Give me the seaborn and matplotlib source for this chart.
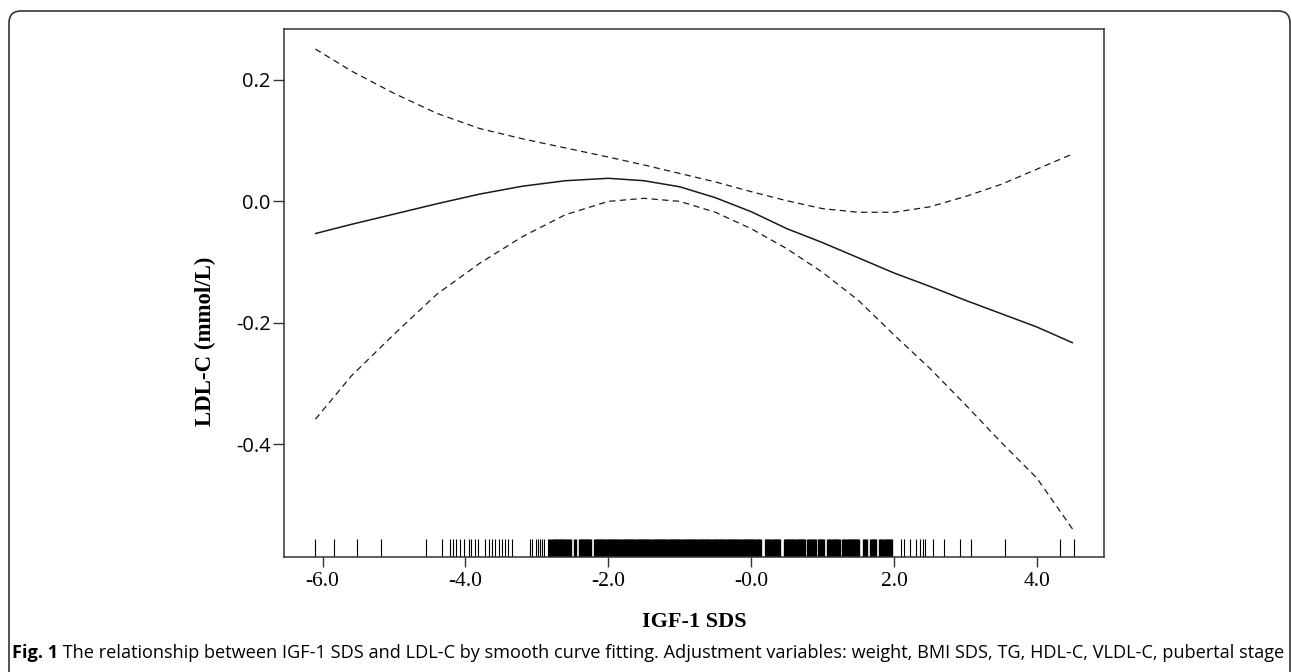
import numpy as np
import pandas as pd
import matplotlib
matplotlib.use("Agg")
import matplotlib.pyplot as plt
import seaborn as sns
from matplotlib.patches import FancyBboxPatch

# smooth curve fit
igf_sds = [-6.1, -5.6, -5.0, -4.4, -3.8, -3.2, -2.6, -2.0, -1.5, -1.0, -0.5,
           0.0, 0.5, 1.0, 1.5, 2.0, 2.5, 3.0, 3.5, 4.0, 4.5]
ldl_fit = [-0.053, -0.038, -0.021, -0.004, 0.012, 0.025, 0.034, 0.038, 0.034, 0.024, 0.006,
           -0.017, -0.045, -0.068, -0.093, -0.118, -0.140, -0.163, -0.185, -0.207, -0.233]
ldl_upper = [0.251, 0.215, 0.178, 0.145, 0.120, 0.103, 0.088, 0.073, 0.060, 0.046, 0.032,
             0.016, 0.001, -0.012, -0.018, -0.018, -0.009, 0.008, 0.028, 0.053, 0.078]
ldl_lower = [-0.359, -0.288, -0.219, -0.153, -0.102, -0.058, -0.022, 0.000, 0.005, 0.000, -0.018,
             -0.045, -0.078, -0.117, -0.163, -0.220, -0.275, -0.335, -0.397, -0.456, -0.540]

# observed IGF-1 SDS values (rug)
rug_sparse = [-6.11, -5.84, -5.52, -5.18, -4.55, -4.33, -4.22, -4.18, -4.13, -4.08, -4.02,
              -3.95, -3.92, -3.87, -3.83, -3.73, -3.67, -3.63, -3.58, -3.53, -3.49, -3.45,
              -3.40, -3.35, -3.10, -3.07, -3.01, -2.98, -2.95, -2.93, -2.90, -2.85,
              2.10, 2.14, 2.23, 2.31, 2.37, 2.40, 2.44, 2.54, 2.70, 2.93, 3.08, 3.55, 4.32, 4.52]
rug_dense = [-2.81, -2.78, -2.75, -2.72, -2.69, -2.66, -2.63, -2.60, -2.57, -2.54, -2.47,
             -2.40, -2.37, -2.34, -2.31, -2.28, -2.25,
             -2.19, -2.16, -2.13, -2.10, -2.07, -2.04, -2.01, -1.98, -1.95, -1.92, -1.89,
             -1.86, -1.83, -1.80, -1.77, -1.74, -1.71, -1.68, -1.65, -1.62, -1.59, -1.56,
             -1.53, -1.50, -1.47, -1.44, -1.41, -1.38, -1.35, -1.32, -1.29, -1.26, -1.23,
             -1.20, -1.17, -1.14, -1.11, -1.08, -1.05, -1.02, -0.99, -0.96, -0.93, -0.90,
             -0.87, -0.84, -0.81, -0.78, -0.75, -0.72, -0.69, -0.66, -0.63, -0.60, -0.57,
             -0.54, -0.51, -0.48, -0.45, -0.42, -0.39, -0.36, -0.33, -0.30, -0.27, -0.24,
             -0.21, -0.18, -0.15, -0.12, -0.09, -0.06, -0.03, 0.00, 0.03, 0.06, 0.09, 0.12,
             0.21, 0.24, 0.27, 0.30, 0.33, 0.36, 0.39,
             0.47, 0.50, 0.53, 0.56, 0.59, 0.62, 0.65, 0.68, 0.71, 0.74,
             0.80, 0.83, 0.86, 0.89, 0.95, 0.98, 1.01,
             1.08, 1.11, 1.14, 1.17, 1.20, 1.23,
             1.29, 1.32, 1.35, 1.38, 1.41, 1.44, 1.47, 1.50,
             1.58, 1.61, 1.68, 1.71, 1.74, 1.80, 1.83, 1.87, 1.90, 1.93, 1.96]

x_ticks = [-6.0, -4.0, -2.0, 0.0, 2.0, 4.0]
x_ticklabels = ["-6.0", "-4.0", "-2.0", "-0.0", "2.0", "4.0"]
y_ticks = [0.2, 0.0, -0.2, -0.4]
y_ticklabels = ["0.2", "0.0", "-0.2", "-0.4"]

caption_bold = "Fig. 1"
caption_rest = (" The relationship between IGF-1 SDS and LDL-C by smooth curve fitting. "
                "Adjustment variables: weight, BMI SDS, TG, HDL-C, VLDL-C, pubertal stage")

sns.set_style("white")
plt.rcParams.update({"text.color": "black", "axes.labelcolor": "black",
                     "xtick.color": "#333333", "ytick.color": "#333333",
                     "xtick.labelcolor": "black", "ytick.labelcolor": "black"})
W, H = 1292, 672
fig = plt.figure(figsize=(W / 100, H / 100), dpi=100)
ax = fig.add_axes([284 / W, 1 - 557 / H, 820 / W, 528 / H])

line_col = "#1a1a1a"
sns.lineplot(x=igf_sds, y=ldl_fit, color=line_col, lw=1.1, ax=ax)
sns.lineplot(x=igf_sds, y=ldl_upper, color=line_col, lw=0.9, ax=ax,
             linestyle=(0, (5, 3.5)))
sns.lineplot(x=igf_sds, y=ldl_lower, color=line_col, lw=0.9, ax=ax,
             linestyle=(0, (5, 3.5)))

sns.rugplot(x=rug_sparse, height=0.034, color="black", linewidth=0.8, ax=ax)
sns.rugplot(x=rug_dense, height=0.034, color="black", linewidth=2.4, ax=ax)

ax.set_xlim(-6.54, 4.94)
ax.set_ylim(-0.586, 0.284)

ax.set_xticks(x_ticks)
ax.set_xticklabels(x_ticklabels, family="Liberation Serif", fontsize=15.5)
ax.set_yticks(y_ticks)
ax.set_yticklabels(y_ticklabels, family="Open Sans", fontsize=14.5)
ax.tick_params(axis="x", bottom=True, direction="out", length=7, width=1, pad=4)
ax.tick_params(axis="y", left=True, direction="out", length=8, width=1, pad=1.5)
for s in ax.spines.values():
    s.set_visible(True)
    s.set_color("#333333")
    s.set_linewidth(1.1)

fig.text(205 / W, 1 - 426 / H, "LDL-C (mmol/L)", rotation=90, ha="center", va="bottom",
         family="Liberation Serif", weight="bold", fontsize=16.5)
fig.text(694 / W, 1 - 612 / H, "IGF-1 SDS", ha="center", va="top",
         family="Liberation Serif", weight="bold", fontsize=16)

# caption, fitted to the width of the original
cap_y = 1 - 653 / H
t1 = fig.text(12 / W, cap_y, caption_bold, ha="left", va="center", family="Open Sans",
              weight="bold", fontsize=12)
t2 = fig.text(0, cap_y, caption_rest, ha="left", va="center", family="Open Sans", fontsize=12)
fig.canvas.draw()
r = fig.canvas.get_renderer()
w_tot = t1.get_window_extent(r).width + t2.get_window_extent(r).width
size = 12 * (1266 / w_tot)
t1.set_fontsize(size)
t2.set_fontsize(size)
fig.canvas.draw()
x2 = t1.get_window_extent(r).x1
t2.set_x(x2 / W)

frame = FancyBboxPatch((9, -30), 1281, H - 11 + 30, boxstyle="round,pad=0,rounding_size=12",
                       transform=None, facecolor="none", edgecolor="#333333", lw=1.2)
fig.add_artist(frame)

fig.savefig("out.png", dpi=100)
